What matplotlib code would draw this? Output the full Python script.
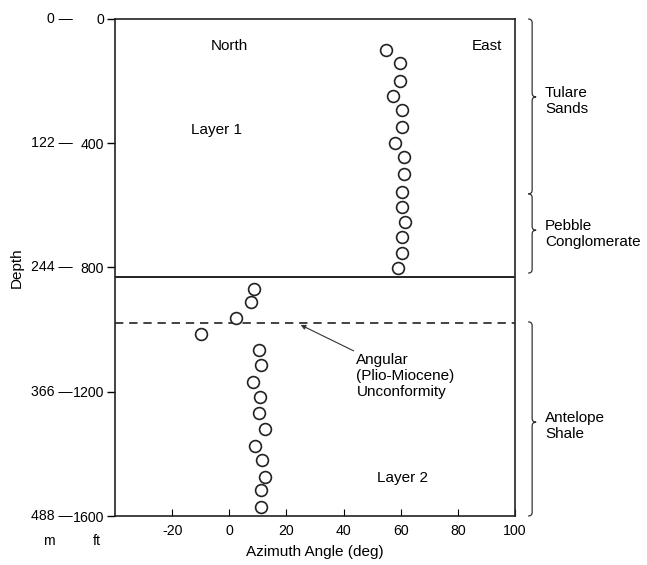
import matplotlib.pyplot as plt
import matplotlib.transforms as mtransforms
from matplotlib.path import Path
from matplotlib.patches import PathPatch

plt.rcParams['font.family'] = ['Liberation Sans', 'DejaVu Sans']
plt.rcParams['axes.unicode_minus'] = False

# azimuth (deg) and depth (ft)
layer1_azimuth = [54.7, 59.8, 59.8, 57.4, 60.4, 60.4, 58.0, 61.3, 61.3, 60.6, 60.6, 61.5, 60.4, 60.4, 59.2]
layer1_depth = [100, 143, 200, 248, 293, 349, 398, 445, 499, 556, 606, 655, 703, 752, 803]
layer2_azimuth = [8.5, 7.7, 2.2, -9.8, 10.3, 11.0, 8.3, 10.9, 10.4, 12.6, 8.9, 11.6, 12.4, 11.2, 11.0]
layer2_depth = [870, 912, 961, 1015, 1066, 1114, 1169, 1216, 1267, 1321, 1375, 1420, 1476, 1516, 1572]

ft_ticks = [0, 400, 800, 1200, 1600]
m_ticks = [0, 122, 244, 366, 488]
x_ticks = [-20, 0, 20, 40, 60, 80, 100]

layer_boundary = 830      # solid line
unconformity = 980        # dashed line

# formations: name, top (ft), bottom (ft), tip (ft)
formations = ['Tulare\nSands', 'Pebble\nConglomerate', 'Antelope\nShale']
form_top = [0, 563, 975]
form_bottom = [563, 818, 1600]
form_tip = [251, 680, 1298]

FS = 11
TFS = 10.2

fig = plt.figure(figsize=(6.47, 5.65), dpi=100)
ax = fig.add_axes([0.1777, 0.0867, 0.6182, 0.8797])

ax.plot(layer1_azimuth, layer1_depth, 'o', mfc='white', mec='#222222', ms=8.5, mew=1.2)
ax.plot(layer2_azimuth, layer2_depth, 'o', mfc='white', mec='#222222', ms=8.5, mew=1.2, zorder=3)
ax.axhline(layer_boundary, color='#222222', lw=1.4)
ax.axhline(unconformity, color='#222222', lw=1.2, ls=(0, (5, 3.5)))

ax.set_xlim(-40, 100)
ax.set_ylim(1600, 0)
ax.set_xticks(x_ticks)
ax.set_yticks(ft_ticks)
ax.tick_params(axis='x', direction='in', length=5, width=0.8, labelsize=TFS, pad=6)
ax.tick_params(axis='y', direction='out', length=6, width=1.0, labelsize=TFS, pad=2)
for s in ax.spines.values():
    s.set_linewidth(1.2)
    s.set_color('#222222')

ax.set_xlabel('Azimuth Angle (deg)', fontsize=FS, labelpad=5)

# metre column
ytrans = mtransforms.blended_transform_factory(ax.transAxes, ax.transData)
for m, ft in zip(m_ticks, ft_ticks):
    ax.text(-0.105, ft, f'{m} \u2014', transform=ytrans, ha='right', va='center', fontsize=TFS)
ax.text(-0.165, -0.05, 'm', transform=ax.transAxes, ha='center', va='center', fontsize=TFS)
ax.text(-0.045, -0.05, 'ft', transform=ax.transAxes, ha='center', va='center', fontsize=TFS)
ax.text(-0.245, 0.5, 'Depth', transform=ax.transAxes, rotation=90, ha='center', va='center', fontsize=FS)

ax.text(0.287, 0.945, 'North', transform=ax.transAxes, ha='center', va='center', fontsize=FS)
ax.text(0.93, 0.945, 'East', transform=ax.transAxes, ha='center', va='center', fontsize=FS)
ax.text(0.255, 0.777, 'Layer 1', transform=ax.transAxes, ha='center', va='center', fontsize=FS)
ax.text(0.718, 0.076, 'Layer 2', transform=ax.transAxes, ha='center', va='center', fontsize=FS)

ax.annotate('Angular\n(Plio-Miocene)\nUnconformity', xy=(25, 985), xytext=(44.5, 1150),
            ha='left', va='center', fontsize=FS, linespacing=1.2,
            arrowprops=dict(arrowstyle='-|>', color='#333333', lw=0.8,
                            mutation_scale=7, shrinkA=0, shrinkB=0))


def brace(top, bottom, tip, x0=1.033, w=0.02):
    # curly brace opening left, pointing right at tip
    c = w * 0.5
    d = 12
    verts = [(x0, top), (x0 + c, top), (x0 + c, top + d),
             (x0 + c, tip - d), (x0 + c, tip), (x0 + w, tip),
             (x0 + c, tip), (x0 + c, tip + d),
             (x0 + c, bottom - d), (x0 + c, bottom), (x0, bottom)]
    codes = [Path.MOVETO, Path.CURVE3, Path.CURVE3,
             Path.LINETO, Path.CURVE3, Path.CURVE3,
             Path.CURVE3, Path.CURVE3,
             Path.LINETO, Path.CURVE3, Path.CURVE3]
    p = PathPatch(Path(verts, codes), transform=ytrans, fill=False,
                  lw=0.9, color='#333333', clip_on=False)
    ax.add_patch(p)


for name, t, b, tip in zip(formations, form_top, form_bottom, form_tip):
    brace(t, b, tip)
    ax.text(1.075, tip + 12, name, transform=ytrans, ha='left', va='center',
            fontsize=FS, linespacing=1.2)

fig.savefig('out.png', dpi=100)
